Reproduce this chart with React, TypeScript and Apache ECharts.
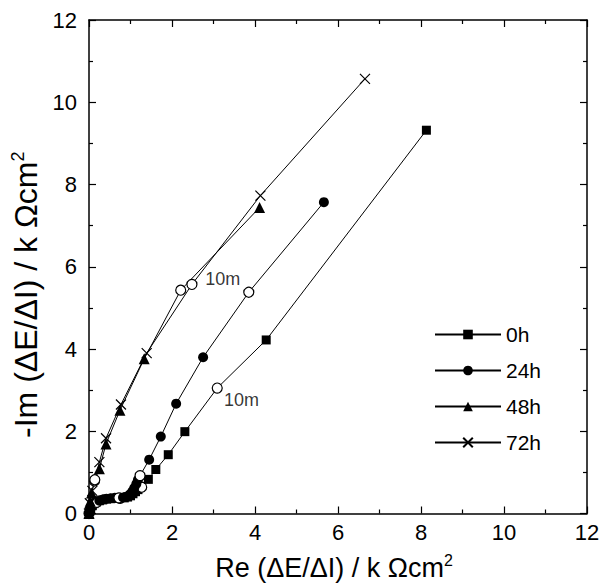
import React, { useEffect, useRef } from "react";
import * as echarts from "echarts";

const FONT = "Liberation Sans, Arial, Helvetica, sans-serif";

const SERIES_NAMES = ["0h", "24h", "48h", "72h"];

// Nyquist data [Re, -Im] in k Ohm cm2
const data0h: [number, number][] = [
  [0.0, 0.0], [0.02, 0.06], [0.04, 0.12], [0.08, 0.19], [0.12, 0.24], [0.18, 0.28],
  [0.25, 0.31], [0.33, 0.33], [0.42, 0.35], [0.52, 0.36], [0.62, 0.37], [0.75, 0.37],
  [0.85, 0.38], [0.93, 0.4], [1.0, 0.43], [1.06, 0.48], [1.12, 0.53], [1.18, 0.58],
  [1.27, 0.64], [1.43, 0.83], [1.61, 1.07], [1.91, 1.43], [2.31, 1.99],
  [3.09, 3.05], [4.27, 4.22], [8.13, 9.32],
];
const open0h = [0, 11, 18, 23];

const data24h: [number, number][] = [
  [0.0, 0.0], [0.02, 0.07], [0.05, 0.14], [0.1, 0.21], [0.18, 0.27], [0.25, 0.31],
  [0.33, 0.34], [0.42, 0.36], [0.52, 0.37], [0.62, 0.38], [0.72, 0.38], [0.82, 0.39],
  [0.9, 0.41], [0.98, 0.46], [1.04, 0.53], [1.09, 0.62], [1.14, 0.72], [1.18, 0.82],
  [1.23, 0.92], [1.45, 1.31], [1.73, 1.87], [2.1, 2.67], [2.75, 3.8],
  [3.85, 5.38], [5.66, 7.57],
];
const open24h = [4, 10, 18, 23];

const data48h: [number, number][] = [
  [0.0, 0.0], [0.01, 0.15], [0.03, 0.3], [0.06, 0.5], [0.13, 0.79], [0.25, 1.09],
  [0.41, 1.69], [0.745, 2.51], [1.33, 3.76], [2.21, 5.43], [4.11, 7.44],
];
const open48h = [4, 9];

const data72h: [number, number][] = [
  [0.0, 0.0], [0.02, 0.25], [0.08, 0.55], [0.14, 0.82], [0.25, 1.25],
  [0.41, 1.83], [0.77, 2.65], [1.39, 3.9], [2.48, 5.57], [4.13, 7.73], [6.65, 10.57],
];
const open72h = [3, 8];

// annotation labels: [Re, -Im, text]
const annotations: [number, number, string][] = [
  [2.8, 5.7, "10m"],
  [3.25, 2.75, "10m"],
];

const X_MIN = 0, X_MAX = 12, X_STEP = 2;
const Y_MIN = 0, Y_MAX = 12, Y_STEP = 2;

const CROSS = "path://M0,0L10,10M10,0L0,10";

export default function App() {
  const ref = useRef<HTMLDivElement>(null);

  useEffect(() => {
    if (!ref.current) return;
    const chart = echarts.init(ref.current, undefined, { renderer: "svg" });

    const openStyle = { color: "#fff", borderColor: "#000", borderWidth: 1.2 };

    const mk = (
      name: string,
      data: [number, number][],
      open: number[],
      symbol: string,
      size: number,
      itemStyle: any
    ) => ({
      type: "line",
      name,
      symbol,
      symbolSize: size,
      clip: false,
      lineStyle: { color: "#000", width: 1 },
      itemStyle,
      data: data.map((p, i) =>
        open.includes(i)
          ? { value: p, symbol: "circle", symbolSize: 10, itemStyle: openStyle, z: 5 }
          : { value: p }
      ),
    });

    const axisCommon = {
      type: "value",
      axisLine: { show: true, onZero: false, lineStyle: { color: "#000", width: 1.5 } },
      axisTick: { show: true, inside: true, length: 7, lineStyle: { color: "#000", width: 1.2 } },
      minorTick: { show: true, splitNumber: 2, length: 4, lineStyle: { color: "#000", width: 1.2 } },
      splitLine: { show: false },
    };

    const tickLabel = { fontSize: 22, color: "#000", fontFamily: FONT };

    const option: any = {
      animation: false,
      backgroundColor: "#fff",
      grid: { left: 89, top: 20, width: 498, height: 497, containLabel: false },
      xAxis: [
        {
          ...axisCommon,
          min: X_MIN, max: X_MAX, interval: X_STEP,
          position: "bottom",
          axisLabel: { ...tickLabel, margin: 8 },
          name: "{t|Re (ΔE/ΔI) / k Ωcm}{s|2}",
          nameLocation: "middle",
          nameGap: 39,
          nameTextStyle: {
            fontFamily: FONT, color: "#000", fontSize: 27,
            padding: [0, 8, 0, 0],
            rich: {
              t: { fontFamily: FONT, color: "#000", fontSize: 27, lineHeight: 30 },
              s: { fontFamily: FONT, color: "#000", fontSize: 16, lineHeight: 16, verticalAlign: "top" },
            },
          },
        },
        {
          ...axisCommon,
          min: X_MIN, max: X_MAX, interval: X_STEP,
          position: "top",
          axisLabel: { show: false },
        },
      ],
      yAxis: [
        {
          ...axisCommon,
          min: Y_MIN, max: Y_MAX, interval: Y_STEP,
          position: "left",
          axisLabel: { ...tickLabel, margin: 12 },
          name: "{t|-Im (ΔE/ΔI) / k Ωcm}{s|2}",
          nameLocation: "middle",
          nameRotate: 90,
          nameGap: 38,
          nameTextStyle: {
            fontFamily: FONT, color: "#000", fontSize: 32,
            padding: [0, 56, 0, 0],
            rich: {
              t: { fontFamily: FONT, color: "#000", fontSize: 32, lineHeight: 34 },
              s: { fontFamily: FONT, color: "#000", fontSize: 18, lineHeight: 18, verticalAlign: "top" },
            },
          },
        },
        {
          ...axisCommon,
          min: Y_MIN, max: Y_MAX, interval: Y_STEP,
          position: "right",
          axisLabel: { show: false },
        },
      ],
      legend: {
        orient: "vertical",
        left: 429,
        top: 319,
        itemWidth: 66,
        itemHeight: 12,
        itemGap: 15,
        data: SERIES_NAMES,
        textStyle: { fontSize: 21, color: "#000", fontFamily: FONT },
      },
      series: [
        mk(SERIES_NAMES[0], data0h, open0h, "rect", 9, { color: "#000" }),
        mk(SERIES_NAMES[1], data24h, open24h, "circle", 10, { color: "#000" }),
        mk(SERIES_NAMES[2], data48h, open48h, "triangle", 11, { color: "#000" }),
        mk(SERIES_NAMES[3], data72h, open72h, CROSS, 10, {
          color: "#000", borderColor: "#000", borderWidth: 1.2,
        }),
        {
          type: "scatter",
          name: "annot",
          symbolSize: 0,
          silent: true,
          data: annotations.map((a) => ({ value: [a[0], a[1]], name: a[2] })),
          label: {
            show: true,
            position: "right",
            distance: 0,
            formatter: (p: any) => p.name,
            fontSize: 18,
            color: "#000",
            fontFamily: FONT,
          },
        },
      ],
    };

    chart.setOption(option);
    return () => chart.dispose();
  }, []);

  return (
    <div
      ref={ref}
      style={{ position: "fixed", left: 0, top: 0, width: 603, height: 586, background: "#fff" }}
    />
  );
}
